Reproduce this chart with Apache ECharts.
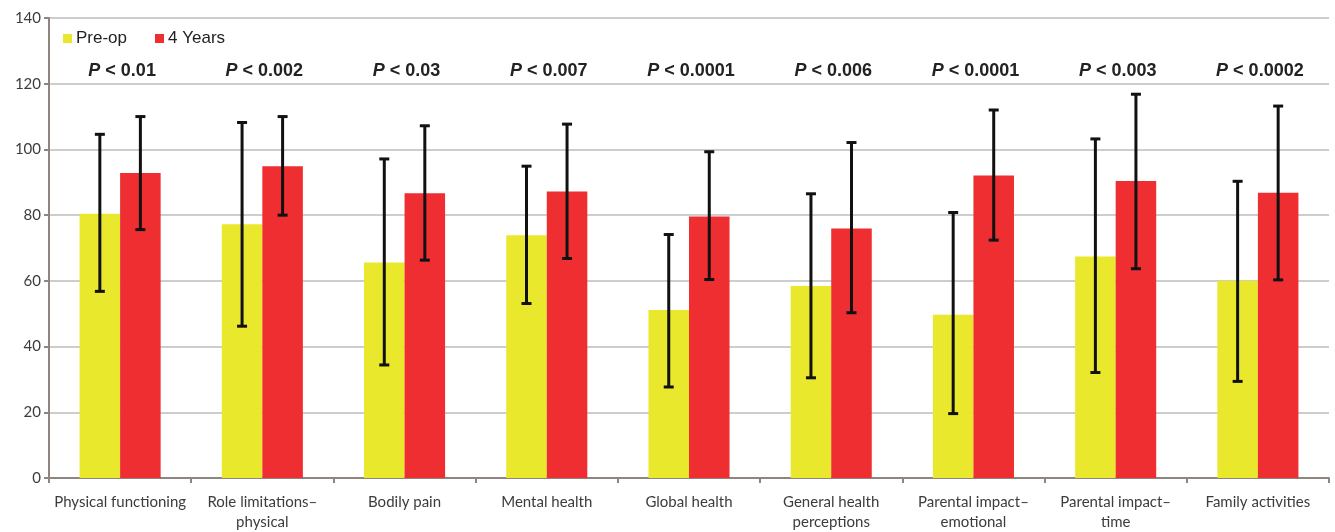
<!DOCTYPE html>
<html>
<head>
<meta charset="utf-8">
<script src="https://cdn.jsdelivr.net/npm/echarts@6/dist/echarts.min.js"></script>
<style>
  html, body { margin: 0; padding: 0; background: #fff; }
  #chart { width: 1335px; height: 532px; }
</style>
</head>
<body>
<div id="chart"></div>
<script>
// Health-related quality-of-life domains, pre-op vs. 4 years
const categories = [
  'Physical functioning', 'Role limitations–\nphysical', 'Bodily pain', 'Mental health',
  'Global health', 'General health\nperceptions', 'Parental impact–\nemotional',
  'Parental impact–\ntime', 'Family activities'
];
const preOp      = [80.4, 77.2, 65.6, 73.9, 51.1, 58.4, 49.7, 67.4, 60.0];
const years4     = [92.8, 94.9, 86.7, 87.2, 79.6, 75.9, 92.1, 90.4, 86.8];
const preOpLow   = [56.8, 46.2, 34.4, 53.1, 27.7, 30.5, 19.6, 32.1, 29.4];
const preOpHigh  = [104.6, 108.2, 97.1, 94.9, 74.1, 86.5, 80.8, 103.2, 90.3];
const years4Low  = [75.6, 80.0, 66.3, 66.8, 60.4, 50.3, 72.4, 63.7, 60.3];
const years4High = [110.0, 110.0, 107.2, 107.7, 99.3, 102.1, 112.0, 116.8, 113.2];
const pValues = ['< 0.01', '< 0.002', '< 0.03', '< 0.007', '< 0.0001', '< 0.006', '< 0.0001', '< 0.003', '< 0.0002'];
const yTicks = [0, 20, 40, 60, 80, 100, 120, 140];

const PVALUE_LEVEL = 124;       // height (in axis units) of the significance row
const BAR_SHARE = 0.285;        // each bar's share of a category band
const COLORS = { pre: '#EAE82C', post: '#EE2E31' };

// Error bars for one series; side = -1 (left bar) or +1 (right bar)
function errorBarSeries(name, low, high, side) {
  return {
    type: 'custom',
    name: name,
    z: 5,
    data: low.map((l, i) => [i, l, high[i]]),
    encode: { x: 0, y: [1, 2] },
    renderItem: function (params, api) {
      const i = api.value(0);
      const band = api.size([1, 0])[0];
      const lo = api.coord([i, api.value(1)]);
      const hi = api.coord([i, api.value(2)]);
      const x = lo[0] + side * band * BAR_SHARE / 2;
      const cap = 5;
      const style = { stroke: '#111', lineWidth: 3 };
      return {
        type: 'group',
        children: [
          { type: 'line', shape: { x1: x, y1: hi[1], x2: x, y2: lo[1] }, style: style },
          { type: 'line', shape: { x1: x - cap, y1: hi[1], x2: x + cap, y2: hi[1] }, style: style },
          { type: 'line', shape: { x1: x - cap, y1: lo[1], x2: x + cap, y2: lo[1] }, style: style }
        ]
      };
    }
  };
}

const chart = echarts.init(document.getElementById('chart'), null, { renderer: 'canvas' });

chart.setOption({
  animation: false,
  backgroundColor: '#fff',
  grid: { left: 49, right: 6, top: 18, bottom: 51, containLabel: false },
  legend: {
    data: ['Pre-op', '4 Years'],
    left: 58, top: 25,
    icon: 'rect', itemWidth: 9, itemHeight: 9, itemGap: 28,
    textStyle: { fontFamily: 'Liberation Sans', fontSize: 17, color: '#222', padding: [0, 0, 0, -1] }
  },
  xAxis: {
    type: 'category',
    data: categories,
    boundaryGap: true,
    axisLine: { lineStyle: { color: '#8f8580', width: 2 } },
    axisTick: { show: true, length: 5, lineStyle: { color: '#8f8580', width: 2 } },
    axisLabel: {
      interval: 0, margin: 14, color: '#3c3c3c',
      fontFamily: 'Lato', fontSize: 15, lineHeight: 20
    },
    splitLine: { show: false }
  },
  yAxis: {
    type: 'value',
    min: yTicks[0], max: yTicks[yTicks.length - 1], interval: 20,
    axisLine: { show: true, lineStyle: { color: '#8f8580', width: 2 } },
    axisTick: { show: true, length: 5, lineStyle: { color: '#8f8580', width: 2 } },
    axisLabel: { margin: 8, color: '#3c3c3c', fontFamily: 'Lato', fontSize: 15 },
    splitLine: { lineStyle: { color: '#bdbdbd', width: 1.5 } }
  },
  series: [
    {
      name: 'Pre-op', type: 'bar', data: preOp,
      barWidth: (BAR_SHARE * 100) + '%', barGap: '0%',
      itemStyle: { color: COLORS.pre }
    },
    {
      name: '4 Years', type: 'bar', data: years4,
      barWidth: (BAR_SHARE * 100) + '%', barGap: '0%',
      itemStyle: { color: COLORS.post }
    },
    errorBarSeries('Pre-op SD', preOpLow, preOpHigh, -1),
    errorBarSeries('4 Years SD', years4Low, years4High, 1),
    {
      type: 'custom',
      name: 'P values',
      z: 6,
      data: pValues.map((p, i) => [i, PVALUE_LEVEL, p]),
      encode: { x: 0, y: 1 },
      renderItem: function (params, api) {
        const pt = api.coord([api.value(0), api.value(1)]);
        return {
          type: 'text',
          x: pt[0] + 2, y: pt[1],
          style: {
            text: '{i|P} ' + pValues[params.dataIndex],
            align: 'center', verticalAlign: 'middle',
            fontFamily: 'Liberation Sans', fontSize: 18, fontWeight: 'bold', fill: '#222',
            rich: {
              i: { fontFamily: 'Liberation Sans', fontSize: 18, fontWeight: 'bold', fontStyle: 'italic', fill: '#222' }
            }
          }
        };
      }
    }
  ]
});
</script>
</body>
</html>
